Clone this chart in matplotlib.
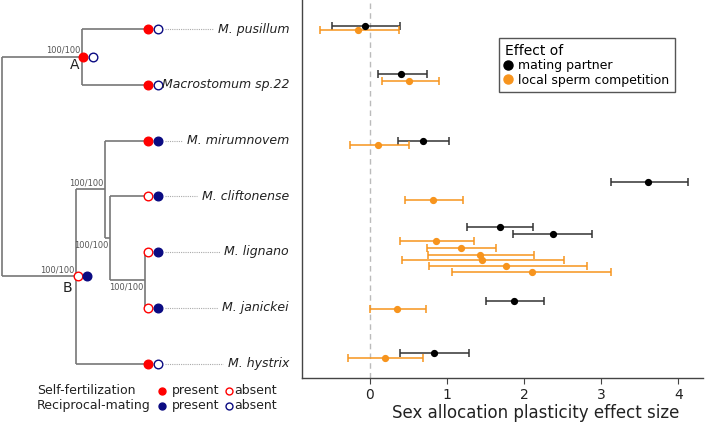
import matplotlib
matplotlib.use("Agg")
import matplotlib.pyplot as plt
from matplotlib.lines import Line2D

# tips, top to bottom
species = ["M. pusillum", "Macrostomum sp.22", "M. mirumnovem", "M. cliftonense",
           "M. lignano", "M. janickei", "M. hystrix"]
self_fert = [1, 1, 1, 0, 0, 0, 1]
recip_mating = [0, 0, 1, 1, 1, 1, 0]

# tree topology (cladogram, tips at depth 1)
node_depth = {"root": 0.0, "A": 0.56, "B": 0.52, "C": 0.72, "D": 0.755, "E": 1.0}
node_children = {
    "root": ["A", "B"],
    "A": ["M. pusillum", "Macrostomum sp.22"],
    "B": ["C", "M. hystrix"],
    "C": ["M. mirumnovem", "D"],
    "D": ["M. cliftonense", "E"],
    "E": ["M. lignano", "M. janickei"],
}
node_support = {"A": "100/100", "B": "100/100", "C": "100/100", "D": "100/100", "E": "100/100"}
node_self = {"A": 1, "B": 0}
node_recip = {"A": 0, "B": 1}
tip_depth = 1.0

# effect sizes (row = species index)
est_row = [0, 0, 1, 1, 2, 2, 3, 3, 4, 4, 4, 4, 4, 4, 4, 4, 5, 5, 6, 6]
est_kind = ["partner", "sperm", "partner", "sperm", "partner", "sperm", "partner", "sperm",
            "partner", "partner", "sperm", "sperm", "sperm", "sperm", "sperm", "sperm",
            "partner", "sperm", "partner", "sperm"]
est_mean = [-0.06, -0.15, 0.40, 0.51, 0.69, 0.11, 3.61, 0.82,
            1.68, 2.37, 0.86, 1.18, 1.43, 1.45, 1.76, 2.10,
            1.87, 0.35, 0.83, 0.20]
est_lo = [-0.49, -0.65, 0.10, 0.15, 0.36, -0.26, 3.13, 0.45,
          1.26, 1.86, 0.39, 0.74, 0.75, 0.42, 0.76, 1.07,
          1.51, 0.00, 0.39, -0.28]
est_hi = [0.39, 0.37, 0.74, 0.89, 1.03, 0.50, 4.13, 1.21,
          2.11, 2.88, 1.35, 1.64, 2.13, 2.51, 2.81, 3.13,
          2.26, 0.73, 1.28, 0.69]
# vertical stagger of each estimate inside its species row
est_offset = [-0.06, 0.02, -0.185, -0.065, 0.005, 0.077, -0.255, 0.063,
              -0.443, -0.317, -0.203, -0.077, 0.054, 0.149, 0.251, 0.364,
              -0.126, 0.018, -0.183, -0.104]

RED = "#FF0000"
NAVY = "#0B0B82"
ORANGE = "#F7941D"
kind_color = {"partner": "black", "sperm": ORANGE}
kind_ecolor = {"partner": "#333333", "sperm": ORANGE}

W, H = 709, 424
fig = plt.figure(figsize=(W / 100, H / 100), dpi=100)

# row units: row r sits at pixel 29 + 55.75 r
r0, rstep = 29.0, 55.75
def prow(py):
    return (py - r0) / rstep

# ---------------- tree panel ----------------
axt = fig.add_axes([0, 0, 300 / W, 1])
axt.set_xlim(-2 / 143, 298 / 143)
axt.set_ylim(prow(H), prow(0))
axt.axis("off")

node_y = {}
def get_y(n):
    if n in species:
        return species.index(n)
    if n not in node_y:
        ys = [get_y(c) for c in node_children[n]]
        node_y[n] = (min(ys) + max(ys)) / 2
    return node_y[n]

def get_x(n):
    return tip_depth if n in species else node_depth[n]

lc = "#777777"
for n, kids in node_children.items():
    x = node_depth[n]
    ys = [get_y(c) for c in kids]
    axt.plot([x, x], [min(ys), max(ys)], color=lc, lw=1.2, solid_capstyle="butt", zorder=1)
    for c in kids:
        axt.plot([x, get_x(c)], [get_y(c), get_y(c)], color=lc, lw=1.2,
                 solid_capstyle="butt", zorder=1)

def state_marker(x, y, present, color, size=6.2):
    axt.plot(x, y, "o", ms=size, mec=color, mfc=color if present else "white",
             mew=1.0, zorder=3)

d1, d2 = 0.02, 0.09
for i, sp in enumerate(species):
    state_marker(tip_depth + d1, i, self_fert[i], RED)
    state_marker(tip_depth + d2, i, recip_mating[i], NAVY)

for n in ["A", "B"]:
    state_marker(node_depth[n] + 0.008, get_y(n), node_self[n], RED)
    state_marker(node_depth[n] + 0.075, get_y(n), node_recip[n], NAVY)

# support values
support_pos = {"A": "above", "B": "above", "C": "above", "D": "below", "E": "below"}
for n, s in node_support.items():
    above = support_pos[n] == "above"
    axt.text(node_depth[n] - 0.012, get_y(n) + (-0.04 if above else 0.04), s,
             fontsize=6, color="#555555", ha="right",
             va="bottom" if above else "top")
axt.text(node_depth["A"] - 0.05, get_y("A") + 0.15, "A", fontsize=10,
         ha="center", va="center", color="#222222")
axt.text(node_depth["B"] - 0.06, get_y("B") + 0.2, "B", fontsize=10,
         ha="center", va="center", color="#222222")

labels = []
for i, sp in enumerate(species):
    t = axt.text(2.007, i, sp, fontsize=9, style="italic", ha="right",
                 va="center", color="#222222")
    labels.append(t)

# trait legend
leg_rows = [prow(390.7), prow(405.7)]
leg_names = ["Self-fertilization", "Reciprocal-mating"]
leg_cols = [RED, NAVY]
for yy, name, col in zip(leg_rows, leg_names, leg_cols):
    axt.text(0.245, yy, name, fontsize=9, ha="left", va="center", color="#222222")
    axt.plot(1.117, yy, "o", ms=5, mfc=col, mec=col, mew=1.0)
    axt.text(1.19, yy, "present", fontsize=9, ha="left", va="center", color="#222222")
    axt.plot(1.587, yy, "o", ms=5, mfc="white", mec=col, mew=1.0)
    axt.text(1.625, yy, "absent", fontsize=9, ha="left", va="center", color="#222222")

# dotted leaders from tip markers to labels
fig.canvas.draw()
rend = fig.canvas.get_renderer()
inv = axt.transData.inverted()
for i, t in enumerate(labels):
    bb = t.get_window_extent(rend)
    x_start = inv.transform((bb.x0, 0))[0]
    if x_start - 0.03 > 1.14:
        axt.plot([1.14, x_start - 0.03], [i, i], color="#aaaaaa", lw=0.8,
                 ls=(0, (1, 1)), zorder=0)

# ---------------- effect size panel ----------------
axe = fig.add_axes([302 / W, (H - 378) / H, 401 / W, 378 / H])
x_ppu = 77.1
axe.set_xlim(-(370 - 302) / x_ppu, (703 - 370) / x_ppu)
axe.set_ylim(prow(378), prow(0))

axe.axvline(0, color="#bbbbbb", lw=1.0, ls=(0, (4, 3)), zorder=0)
for r, k, m, lo, hi, off in zip(est_row, est_kind, est_mean, est_lo, est_hi, est_offset):
    axe.errorbar(m, r + off, xerr=[[m - lo], [hi - m]], fmt="o", ms=4.2,
                 color=kind_color[k], ecolor=kind_ecolor[k], elinewidth=1.1,
                 capsize=3.2, capthick=1.1, zorder=3)

axe.set_xticks([0, 1, 2, 3, 4])
axe.set_yticks([])
axe.tick_params(axis="x", labelsize=10, length=4, pad=3, color="#444444",
                labelcolor="#222222")
for s in ["top", "right"]:
    axe.spines[s].set_visible(False)
for s in ["left", "bottom"]:
    axe.spines[s].set_color("#444444")
    axe.spines[s].set_linewidth(1.0)
axe.set_xlabel("Sex allocation plasticity effect size", fontsize=12, color="#222222")
axe.xaxis.set_label_coords((536 - 302) / 401, -(412.5 - 378) / 378)
axe.xaxis.label.set_va("center")

handles = [Line2D([], [], marker="o", ls="", color="black", ms=6.5),
           Line2D([], [], marker="o", ls="", color=ORANGE, ms=6.5)]
leg = axe.legend(handles, ["mating partner", "local sperm competition"],
                 title="Effect of", loc="upper left",
                 bbox_to_anchor=((499 - 302) / 401, 1 - 38 / 378),
                 fontsize=9, title_fontsize=10, fancybox=False, framealpha=1,
                 edgecolor="#555555", handlelength=0.6, handletextpad=0.5,
                 borderpad=0.45, labelspacing=0.12, borderaxespad=0)
leg._legend_box.align = "left"
leg.get_frame().set_linewidth(1.0)

fig.savefig("out.png", dpi=100)
